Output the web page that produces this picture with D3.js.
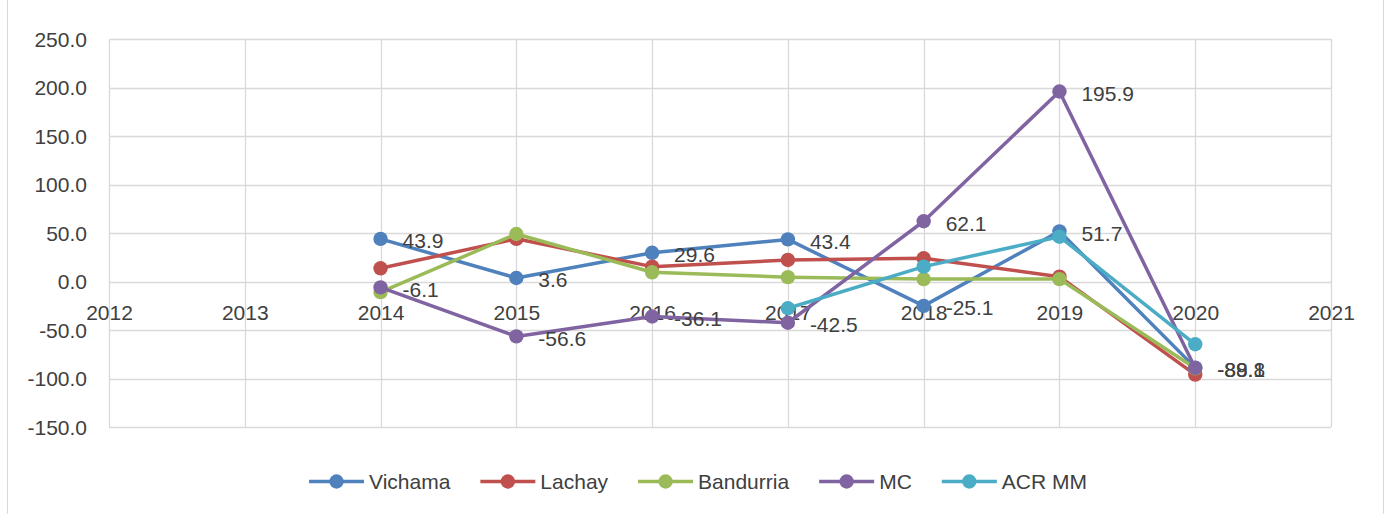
<!DOCTYPE html>
<html>
<head>
<meta charset="utf-8">
<script src="https://cdn.jsdelivr.net/npm/d3@7"></script>
<style>
  html, body { margin: 0; padding: 0; background: #fff; }
  svg { display: block; }
  text { font-family: "Liberation Sans", Arial, sans-serif; fill: #404040; }
</style>
</head>
<body>
<svg id="chart" width="1393" height="514"></svg>
<script>
// ---- data ----
const years = [2014, 2015, 2016, 2017, 2018, 2019, 2020];
const vichama   = [43.9, 3.6, 29.6, 43.4, -25.1, 51.7, -88.8];
const lachay    = [13.6, 44.0, 15.3, 22.2, 23.9, 5.0, -96.0];
const bandurria = [-11.0, 49.0, 9.5, 4.5, 2.5, 2.5, -89.5];
const mc        = [-6.1, -56.6, -36.1, -42.5, 62.1, 195.9, -89.1];
const acrmm     = [null, null, null, -27.6, 15.3, 46.2, -64.7];
const xTicks = [2012, 2013, 2014, 2015, 2016, 2017, 2018, 2019, 2020, 2021];
const yTicks = [250, 200, 150, 100, 50, 0, -50, -100, -150];

const series = [
  { name: "Vichama",   values: vichama,   color: "#4f81bd", labels: true },
  { name: "Lachay",    values: lachay,    color: "#c0504d", labels: false },
  { name: "Bandurria", values: bandurria, color: "#9bbb59", labels: false },
  { name: "MC",        values: mc,        color: "#8064a2", labels: true },
  { name: "ACR MM",    values: acrmm,     color: "#4bacc6", labels: false }
];

const fmt = v => v.toFixed(1);   // plain hyphen minus, like the reference

const svg = d3.select("#chart");
const x = d3.scaleLinear().domain([2012, 2021]).range([109, 1331]);
const y = d3.scaleLinear().domain([-150, 250]).range([427, 39]);

// outer border
svg.append("rect").attr("x", 7.5).attr("y", -2).attr("width", 1376).attr("height", 520)
  .attr("fill", "none").attr("stroke", "#d9d9d9").attr("stroke-width", 1);

// gridlines
const grid = svg.append("g");
grid.selectAll(".hg").data(yTicks).join("line")
  .attr("x1", x(2012)).attr("x2", x(2021))
  .attr("y1", d => Math.round(y(d)) + 0.5).attr("y2", d => Math.round(y(d)) + 0.5)
  .attr("stroke", "#d9d9d9").attr("stroke-width", 1.3);
grid.selectAll(".vg").data(xTicks).join("line")
  .attr("y1", y(250)).attr("y2", y(-150))
  .attr("x1", d => Math.round(x(d)) + 0.5).attr("x2", d => Math.round(x(d)) + 0.5)
  .attr("stroke", "#d9d9d9").attr("stroke-width", 1.3);

// y axis labels
const yAxis = d3.axisLeft(y).tickValues(yTicks).tickFormat(fmt).tickSize(0).tickPadding(22);
const gy = svg.append("g").attr("transform", `translate(${x(2012)},0)`).call(yAxis);
gy.select(".domain").remove();
gy.selectAll("text").style("font-size", "21px").attr("fill", "#404040")
  .attr("font-family", "Liberation Sans, Arial, sans-serif").attr("dy", "0.35em");

// x axis labels (crossing at 0)
const xAxis = d3.axisBottom(x).tickValues(xTicks).tickFormat(d3.format("d")).tickSize(0).tickPadding(34);
const gx = svg.append("g").attr("transform", `translate(0,${y(0)})`).call(xAxis);
gx.select(".domain").remove();
gx.selectAll("text").style("font-size", "21px").attr("fill", "#404040")
  .attr("font-family", "Liberation Sans, Arial, sans-serif").attr("dy", "0.2em");

// lines and markers
const line = d3.line()
  .defined(d => d.v !== null)
  .x(d => x(d.year)).y(d => y(d.v));

series.forEach(s => {
  const pts = years.map((yr, i) => ({ year: yr, v: s.values[i] }));
  const g = svg.append("g");
  g.append("path").datum(pts).attr("d", line)
    .attr("fill", "none").attr("stroke", s.color).attr("stroke-width", 3.5)
    .attr("stroke-linejoin", "round").attr("stroke-linecap", "round");
  g.selectAll("circle").data(pts.filter(d => d.v !== null)).join("circle")
    .attr("cx", d => x(d.year)).attr("cy", d => y(d.v)).attr("r", 7.2)
    .attr("fill", s.color);
  s.pts = pts;
});

// data labels (drawn on top)
series.filter(s => s.labels).forEach(s => {
  svg.append("g").selectAll("text").data(s.pts.filter(d => d.v !== null)).join("text")
    .attr("x", d => x(d.year) + 22).attr("y", d => y(d.v))
    .attr("dy", "0.45em")
    .style("font-size", "21px")
    .text(d => fmt(d.v));
});

// legend
const legend = svg.append("g").attr("transform", "translate(0,481.5)");
const items = [];
series.forEach(s => {
  const it = legend.append("g");
  it.append("line").attr("x1", 0).attr("x2", 55).attr("y1", 0).attr("y2", 0)
    .attr("stroke", s.color).attr("stroke-width", 3.5);
  it.append("circle").attr("cx", 27.5).attr("cy", 0).attr("r", 7.2).attr("fill", s.color);
  const t = it.append("text").attr("x", 60).attr("y", 0).attr("dy", "0.35em")
    .style("font-size", "21px").text(s.name);
  items.push({ g: it, w: 60 + t.node().getComputedTextLength() });
});
const gap = 30;
const total = d3.sum(items, d => d.w) + gap * (items.length - 1);
let cx = 698 - total / 2;
items.forEach(d => { d.g.attr("transform", `translate(${cx},0)`); cx += d.w + gap; });
</script>
</body>
</html>
